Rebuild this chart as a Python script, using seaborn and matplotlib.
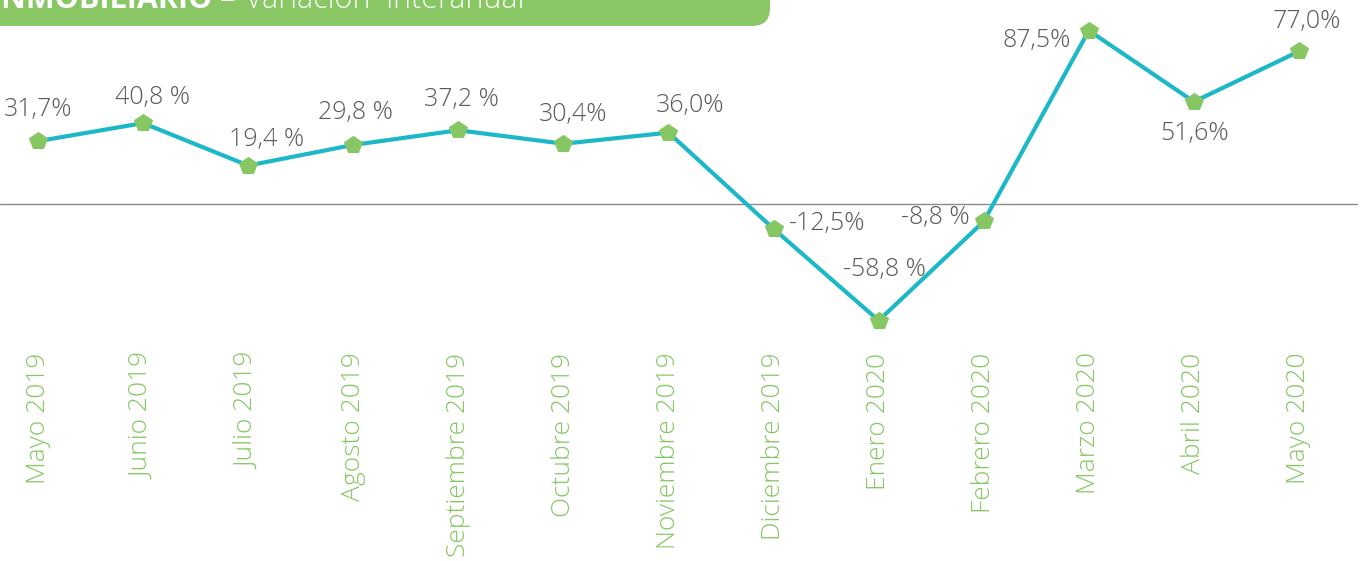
import numpy as np
import matplotlib
matplotlib.use("Agg")
import matplotlib.pyplot as plt
import matplotlib.patches as mpatches
import matplotlib.transforms as mtrans
import seaborn as sns

months = ["Mayo 2019", "Junio 2019", "Julio 2019", "Agosto 2019", "Septiembre 2019",
          "Octubre 2019", "Noviembre 2019", "Diciembre 2019", "Enero 2020",
          "Febrero 2020", "Marzo 2020", "Abril 2020", "Mayo 2020"]
values = [31.7, 40.8, 19.4, 29.8, 37.2, 30.4, 36.0, -12.5, -58.8, -8.8, 87.5, 51.6, 77.0]
labels = ["31,7%", "40,8 %", "19,4 %", "29,8 %", "37,2 %", "30,4%", "36,0%",
          "-12,5%", "-58,8 %", "-8,8 %", "87,5%", "51,6%", "77,0%"]
# label offsets in pixels (dx, dy)
offsets = [(0, 32), (9, 26), (18, 26), (2, 32), (3, 31), (10, 29), (22, 27),
           (54, 5), (6, 51), (-48, 4), (-52, -10), (1, -32), (8, 30)]

TEAL = "#1cb8c8"
GREEN = "#86c763"
TXT = "#595959"

sns.set_style("white")
plt.rcParams['font.family'] = ['Open Sans', 'DejaVu Sans']

W, H = 1363, 561
fig = plt.figure(figsize=(W / 100, H / 100), dpi=100)
ax = fig.add_axes([0, 1 - 340 / H, 1358 / W, 340 / H])

x = np.arange(len(values))
sns.lineplot(x=x, y=values, ax=ax, color=TEAL, linewidth=3, marker="p",
             markersize=13, markerfacecolor=GREEN, markeredgecolor=GREEN, zorder=3)

ax.axhline(0, color="#8a8a8a", linewidth=1, zorder=1)

for xi, v, lab, (dx, dy) in zip(x, values, labels, offsets):
    ax.annotate(lab, (xi, v), xytext=(dx, dy), textcoords="offset pixels",
                ha="center", va="center", fontsize=18, fontweight="light", color=TXT)

ax.set_xlim(-38 / 105.08, 12 + 59 / 105.08)
ax.set_ylim(-68.6, 102.9)
ax.set_xticks(x)
ax.set_xticklabels(months, rotation=90, color=GREEN, fontsize=19, fontweight="light")
ax.tick_params(axis="x", length=0, pad=9)
ax.set_yticks([])
for s in ax.spines.values():
    s.set_visible(False)
ax.set_xlabel("")
ax.set_ylabel("")
ax.patch.set_alpha(0)

# Title banner
banner = mpatches.FancyBboxPatch((-40, H - 26), 810, 80,
                                 boxstyle="round,pad=0,rounding_size=18",
                                 transform=mtrans.IdentityTransform(),
                                 facecolor="#88c764", edgecolor="none", zorder=0)
fig.add_artist(banner)
fig.text(-9 / W, 1 - 8 / H, "INMOBILIARIO –", color="white", fontsize=22,
         fontweight="bold", ha="left", va="baseline")
fig.text(245 / W, 1 - 8 / H, "Variación  interanual", color="white", fontsize=22,
         fontweight="light", ha="left", va="baseline")

fig.savefig("out.png", dpi=100)
